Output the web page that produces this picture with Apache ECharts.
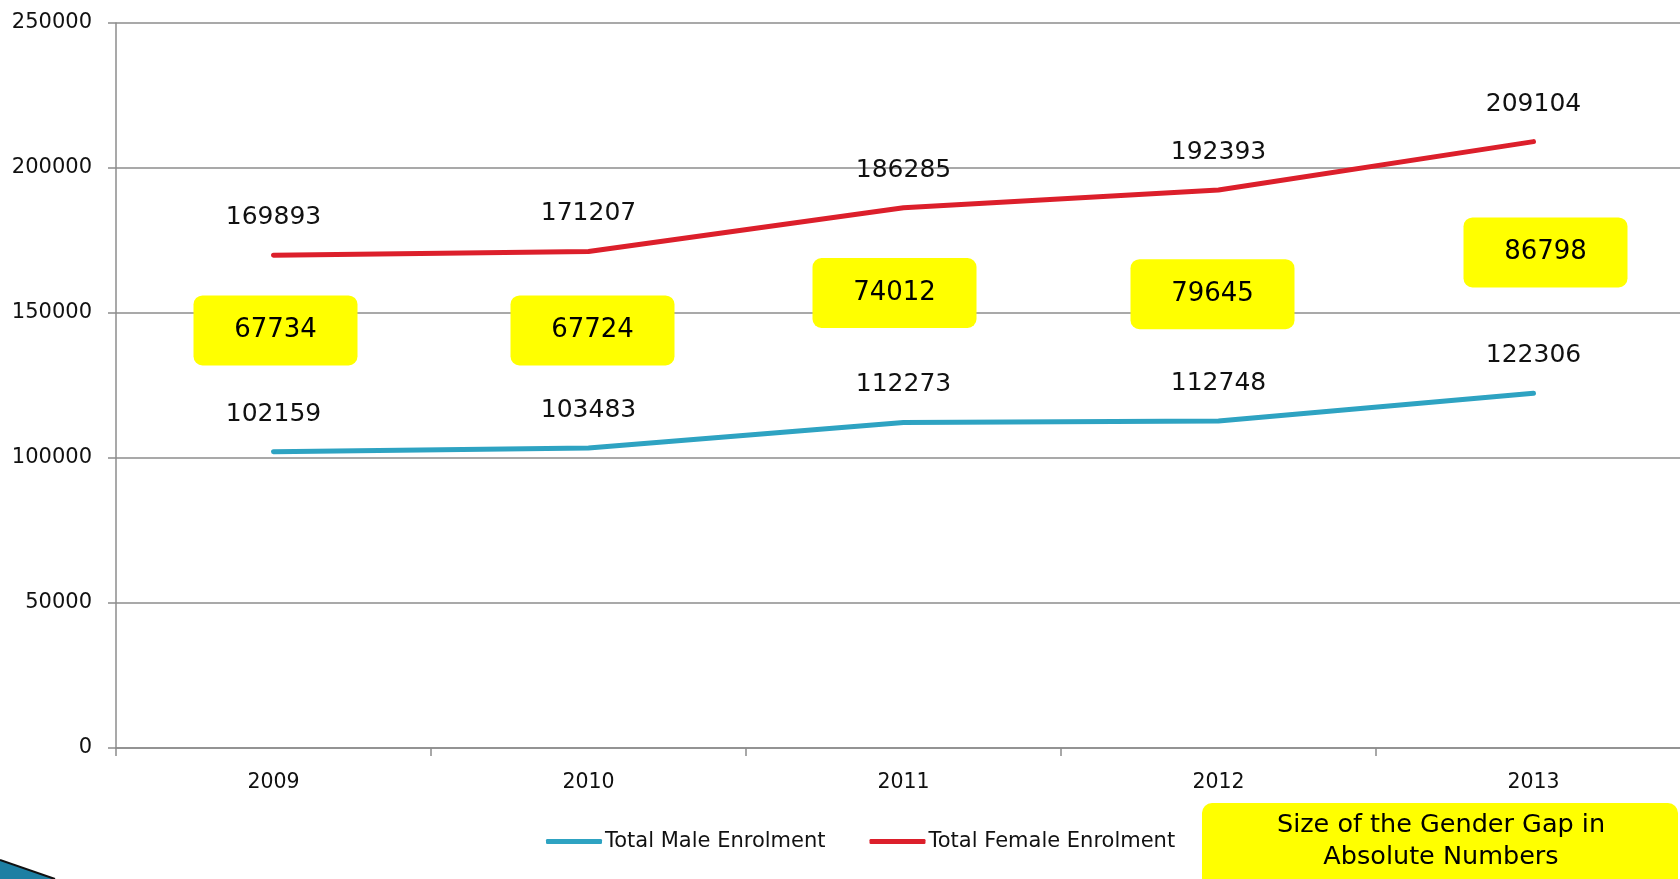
<!DOCTYPE html>
<html>
<head>
<meta charset="utf-8">
<script src="https://cdn.jsdelivr.net/npm/echarts@6/dist/echarts.min.js"></script>
<style>
  html, body { margin: 0; padding: 0; background: #fff; overflow: hidden; }
  /* the plot runs a little past the right edge of the slide */
  #chart { width: 1691px; height: 879px; }
</style>
</head>
<body>
<div id="chart"></div>
<script>
// data
var years = ['2009', '2010', '2011', '2012', '2013'];
var maleEnrolment = [102159, 103483, 112273, 112748, 122306];
var femaleEnrolment = [169893, 171207, 186285, 192393, 209104];

// where the yellow gap boxes sit (value-axis level) and their small x nudge, in px
var GAP_BOX_Y = [144000, 144000, 156900, 156500, 170900];
var GAP_BOX_DX = [2, 4, -9, -6, 12];

var FONT = 'DejaVu Sans';
var BLUE = '#2ea3c2';
var RED = '#dc1f2b';
var GREY = '#8c8c8c';

var gapData = years.map(function (y, i) {
  return {
    value: [i, GAP_BOX_Y[i], femaleEnrolment[i] - maleEnrolment[i]],
    label: { offset: [GAP_BOX_DX[i], 0] }
  };
});

var chart = echarts.init(document.getElementById('chart'));
chart.setOption({
  animation: false,
  textStyle: { fontFamily: FONT },
  grid: { left: 116, top: 23, bottom: 131, right: 0, containLabel: false },
  legend: {
    left: 541,
    top: 826,
    itemWidth: 56,
    itemHeight: 5,
    itemGap: 44,
    icon: 'roundRect',
    textStyle: { fontFamily: FONT, fontSize: 21, color: '#111', padding: [0, 0, 0, -2] },
    data: ['Total Male Enrolment', 'Total Female Enrolment']
  },
  xAxis: {
    type: 'category',
    data: years,
    boundaryGap: true,
    axisLine: { lineStyle: { color: GREY, width: 1.5 } },
    axisTick: { show: true, length: 8, lineStyle: { color: GREY, width: 1.5 } },
    axisLabel: { fontFamily: FONT, fontSize: 20.5, color: '#111', margin: 24 }
  },
  yAxis: {
    type: 'value',
    min: 0,
    max: 250000,
    interval: 50000,
    axisLine: { show: true, lineStyle: { color: GREY, width: 1.5 } },
    axisTick: { show: true, length: 8, lineStyle: { color: GREY, width: 1.5 } },
    axisLabel: {
      fontFamily: FONT, fontSize: 21, color: '#111', margin: 24,
      formatter: function (v) { return String(v); }
    },
    splitLine: { lineStyle: { color: GREY, width: 1.5 } }
  },
  series: [
    {
      name: 'Total Male Enrolment',
      type: 'line',
      data: maleEnrolment,
      symbol: 'circle',
      symbolSize: 2,
      itemStyle: { color: BLUE },
      lineStyle: { color: BLUE, width: 5, cap: 'round' },
      label: { show: true, position: 'top', distance: 24, fontFamily: FONT, fontSize: 25, color: '#111' }
    },
    {
      name: 'Total Female Enrolment',
      type: 'line',
      data: femaleEnrolment,
      symbol: 'circle',
      symbolSize: 2,
      itemStyle: { color: RED },
      lineStyle: { color: RED, width: 5, cap: 'round' },
      label: { show: true, position: 'top', distance: 24, fontFamily: FONT, fontSize: 25, color: '#111' }
    },
    {
      name: 'gap',
      type: 'scatter',
      data: gapData,
      symbolSize: 1,
      itemStyle: { color: 'rgba(0,0,0,0)', opacity: 1 },
      z: 5,
      label: {
        show: true,
        position: 'inside',
        formatter: function (p) { return p.value[2]; },
        fontFamily: FONT,
        fontSize: 26,
        color: '#000',
        backgroundColor: '#ffff00',
        borderRadius: 9,
        width: 82,
        align: 'center',
        padding: [22, 41]
      }
    }
  ],
  graphic: [
    {
      type: 'rect',
      shape: { x: 1202, y: 803, width: 476, height: 100, r: 10 },
      style: { fill: '#ffff00' }
    },
    {
      type: 'text',
      x: 1441,
      y: 841,
      style: {
        text: 'Size of the Gender Gap in\nAbsolute Numbers',
        fontFamily: FONT,
        fontSize: 25.5,
        lineHeight: 32,
        fill: '#000',
        align: 'center',
        verticalAlign: 'middle'
      }
    },
    {
      type: 'polygon',
      shape: { points: [[0, 860], [55, 879], [0, 879]] },
      style: { fill: '#1d7fa3' }
    },
    {
      type: 'polyline',
      shape: { points: [[0, 860], [55, 879]] },
      style: { stroke: '#111', lineWidth: 2 }
    }
  ]
});
</script>
</body>
</html>
